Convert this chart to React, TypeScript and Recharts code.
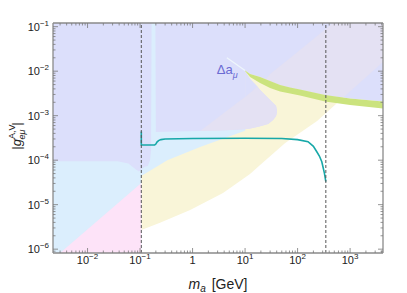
import {
  Area,
  ComposedChart,
  Line,
  ReferenceDot,
  ReferenceLine,
  XAxis,
  YAxis,
} from "recharts";

const FONT = "'Liberation Sans', Arial, Helvetica, sans-serif";

const X_MIN = 0.0022;
const X_MAX = 4230;
const Y_MIN = 8.2e-7;
const Y_MAX = 0.121;
const M_MU = 0.1057;
const M_2TOP = 345;

// tick labels
const xMajor = [0.01, 0.1, 1, 10, 100, 1000];
const xMajorLabels = [["10", "−2"], ["10", "−1"], ["1", ""], ["10", "1"], ["10", "2"], ["10", "3"]];
const yMajor = [1e-6, 1e-5, 1e-4, 1e-3, 1e-2, 1e-1];
const yMajorLabels = [["10", "−6"], ["10", "−5"], ["10", "−4"], ["10", "−3"], ["10", "−2"], ["10", "−1"]];

// yellow band (lower edge, open to the top)
const yellowX = [M_MU, 0.24, 0.9, 3.8, 12.4, 19.3, 58, 235, 565, 4230];
const yellowLow = [2.7e-6, 3.9e-6, 7.6e-6, 1.83e-5, 4.9e-5, 7.8e-5, 2.44e-4, 7.6e-4, 1.93e-3, 1.61e-2];

// light blue region
const lightBlueX = [X_MIN, M_MU, M_MU, 0.33, 1.39, 10];
const lightBlueLow = [Y_MIN, Y_MIN, 4.4e-5, 1.0e-4, 1.98e-4, 4.6e-4];

// pink region
const pinkX = [0.003, M_MU];
const pinkTop = [Y_MIN, 3.08e-5];

// blue region, left part (lower edge)
const blueX = [X_MIN, 0.037, 0.06, 0.08, 0.095, 0.12, 0.14, 0.155, 0.162, 0.166, 0.196, 0.2, 1.39, 7, 10];
const blueLow = [9.5e-5, 9.5e-5, 8.4e-5, 6.4e-5, 5.6e-5, 7.0e-5, 7.4e-5, 1.0e-4, 1.7e-4, Y_MAX, Y_MAX, 4.3e-4, 4.5e-4, 4.8e-4, 4.94e-4];

// Δa_μ band
const greenX = [10, 12.45, 19.3, 29.9, 46.4, 72, 111, 334, 1000, 4230];
const greenUp = [0.0104, 8.65e-3, 7.41e-3, 6.03e-3, 4.9e-3, 4.31e-3, 3.88e-3, 2.92e-3, 2.44e-3, 2.09e-3];
const greenLow = [0.0101, 7.41e-3, 5.43e-3, 4.19e-3, 3.5e-3, 3.16e-3, 2.84e-3, 2.09e-3, 1.74e-3, 1.45e-3];

// blue tongue below the Δa_μ tip
const tongueX = [10, 12.6, 16.9, 19.3, 27.4, 34.1, 38.9, 40.7];
const tongueLow = [4.94e-4, 5.15e-4, 5.57e-4, 5.8e-4, 6.5e-4, 8.0e-4, 9.8e-4, 1.24e-3];
const tongueHigh = [0.0101, 6.68e-3, 4.65e-3, 3.78e-3, 2.5e-3, 1.93e-3, 1.65e-3, 1.24e-3];

// overlap of blue and yellow
const blendAX = [1.39, 3, 7, 10, 12.6, 16.9, 19.3, 27.4, 34.1, 38.9, 40.7];
const blendALow = [4.5e-4, 4.6e-4, 4.8e-4, 4.94e-4, 5.15e-4, 5.57e-4, 5.8e-4, 6.5e-4, 8.0e-4, 9.8e-4, 1.24e-3];
const blendAHigh = [4.5e-4, 9.0e-4, 1.93e-3, 2.63e-3, 3.29e-3, 4.5e-3, 3.78e-3, 2.5e-3, 1.93e-3, 1.65e-3, 1.24e-3];
const blendBX = [24.7, 29.9, 46.4, 72, 111, 334, 465, 759, 4230];
const blendBLow = [6.6e-3, 6.03e-3, 4.9e-3, 4.31e-3, 3.88e-3, 2.92e-3, 2.8e-3, 2.63e-3, 1.61e-2];
const blendBHigh = [6.6e-3, 8.65e-3, 0.0131, 0.0198, 0.0299, 0.086, Y_MAX, Y_MAX, Y_MAX];

// teal curve
const tealX = [M_MU, M_MU, 0.19, 0.2, 0.21, 0.225, 0.25, 0.3, 1, 10, 50, 100, 158, 200, 232, 260, 289, 324, M_2TOP];
const tealY = [4.4e-4, 2.2e-4, 2.2e-4, 2.3e-4, 2.55e-4, 2.75e-4, 2.9e-4, 3.0e-4, 3.08e-4, 3.1e-4, 3.07e-4, 2.9e-4, 2.6e-4, 2.05e-4, 1.55e-4, 1.24e-4, 9.2e-5, 5.1e-5, 3.3e-5];

// faint continuation of the Δa_μ band
const faintX = [4.5, 10];
const faintY = [0.02, 0.0104];

const band = (xs: number[], lo: number[], hi: number[] | number) =>
  xs.map((x, i) => ({ x, v: [lo[i], Array.isArray(hi) ? hi[i] : hi] }));
const pts = (xs: number[], ys: number[]) => xs.map((x, i) => ({ x, y: ys[i] }));

const logTicks = (lo: number, hi: number) => {
  const out: number[] = [];
  for (let e = Math.floor(Math.log10(lo)); e <= Math.ceil(Math.log10(hi)); e++) {
    for (let k = 1; k < 10; k++) {
      const v = k * Math.pow(10, e);
      if (v >= lo && v <= hi) out.push(v);
    }
  }
  return out;
};
const xTicks = logTicks(X_MIN, X_MAX);
const yTicks = logTicks(Y_MIN, Y_MAX);

const majorIndex = (v: number, majors: number[]) =>
  majors.findIndex((m) => Math.abs(Math.log10(m) - Math.log10(v)) < 1e-6);

const TICK = "#7a7a7a";

const XTick = (props: any) => {
  const { x, y, payload, top } = props;
  const i = majorIndex(payload.value, xMajor);
  const len = i >= 0 ? 5 : 2.5;
  const dir = top ? 1 : -1;
  const lab = i >= 0 ? xMajorLabels[i] : null;
  return (
    <g>
      <line x1={x} x2={x} y1={y} y2={y + dir * len} stroke={TICK} strokeWidth={0.8} />
      {!top && lab && (
        <text x={x} y={y + 11} textAnchor="middle" fontSize={11} fill="#222" fontFamily={FONT}>
          <tspan>{lab[0]}</tspan>
          {lab[1] && (
            <tspan dy={-5} fontSize={8}>
              {lab[1]}
            </tspan>
          )}
        </text>
      )}
    </g>
  );
};

const YTick = (props: any) => {
  const { x, y, payload, right } = props;
  const i = majorIndex(payload.value, yMajor);
  const len = i >= 0 ? 5 : 2.5;
  const dir = right ? -1 : 1;
  const lab = i >= 0 ? yMajorLabels[i] : null;
  return (
    <g>
      <line x1={x} x2={x + dir * len} y1={y} y2={y} stroke={TICK} strokeWidth={0.8} />
      {!right && lab && (
        <text x={x - 4} y={y + 4} textAnchor="end" fontSize={11} fill="#222" fontFamily={FONT}>
          <tspan>{lab[0]}</tspan>
          <tspan dy={-5} fontSize={8}>
            {lab[1]}
          </tspan>
        </text>
      )}
    </g>
  );
};

const LabelDelta = (props: any) => (
  <text x={props.cx} y={props.cy} fontSize={13} fill="#6b6bd3" fontFamily={FONT}>
    <tspan>Δa</tspan>
    <tspan dy={4} fontSize={9} fontStyle="italic">
      μ
    </tspan>
  </text>
);

const frame = { stroke: "#8a8a8a", strokeWidth: 1.3 };

const areaProps = {
  dataKey: "v",
  stroke: "none",
  fillOpacity: 1,
  isAnimationActive: false,
  dot: false,
  activeDot: false,
  type: "linear" as const,
};

export default function App() {
  return (
    <ComposedChart
      width={400}
      height={285}
      margin={{ top: 0, right: 0, bottom: 0, left: 0 }}
    >
      <Area {...areaProps} data={band(yellowX, yellowLow, Y_MAX)} fill="#f9f5d8" />
      <Area {...areaProps} data={band(lightBlueX, lightBlueLow, Y_MAX)} fill="#dbeefd" />
      <Area {...areaProps} data={band(pinkX, new Array(pinkX.length).fill(Y_MIN), pinkTop)} fill="#fde3f8" />
      <Area
        {...areaProps}
        data={[...band(blueX, blueLow, Y_MAX), ...band(greenX, greenUp, Y_MAX)]}
        fill="#dcdffb"
      />
      <Area {...areaProps} data={band(tongueX, tongueLow, tongueHigh)} fill="#dcdffb" />
      <Area {...areaProps} data={band(blendAX, blendALow, blendAHigh)} fill="#e4e1f3" />
      <Area {...areaProps} data={band(blendBX, blendBLow, blendBHigh)} fill="#e4e1f3" />
      <Area {...areaProps} data={band(greenX, greenLow, greenUp)} fill="#cbe37e" />
      <Line
        data={pts(faintX, faintY)}
        dataKey="y"
        stroke="#eef6fb"
        strokeWidth={1.2}
        dot={false}
        activeDot={false}
        isAnimationActive={false}
      />
      <Line
        data={pts(tealX, tealY)}
        dataKey="y"
        type="linear"
        stroke="#17a8a8"
        strokeWidth={1.6}
        dot={false}
        activeDot={false}
        isAnimationActive={false}
      />
      <ReferenceLine x={M_MU} stroke="#555" strokeDasharray="3 2" strokeWidth={1} />
      <ReferenceLine x={M_2TOP} stroke="#555" strokeDasharray="3 2" strokeWidth={1} />
      <ReferenceDot x={2.9} y={8.65e-3} r={0} shape={(p: any) => <LabelDelta {...p} />} />

      <XAxis
        dataKey="x"
        type="number"
        scale="log"
        domain={[X_MIN, X_MAX]}
        allowDataOverflow
        ticks={xTicks}
        interval={0}
        height={40}
        tickSize={0}
        tickMargin={0}
        tickLine={false}
        axisLine={frame}
        tick={(p: any) => <XTick {...p} />}
      />
      <XAxis
        xAxisId="top"
        orientation="top"
        dataKey="x"
        type="number"
        scale="log"
        domain={[X_MIN, X_MAX]}
        allowDataOverflow
        ticks={xTicks}
        interval={0}
        height={15}
        tickSize={0}
        tickMargin={0}
        tickLine={false}
        axisLine={frame}
        tick={(p: any) => <XTick {...p} top />}
      />
      <YAxis
        type="number"
        scale="log"
        domain={[Y_MIN, Y_MAX]}
        allowDataOverflow
        ticks={yTicks}
        interval={0}
        width={45}
        tickSize={0}
        tickMargin={0}
        tickLine={false}
        axisLine={frame}
        tick={(p: any) => <YTick {...p} />}
      />
      <YAxis
        yAxisId="r"
        orientation="right"
        type="number"
        scale="log"
        domain={[Y_MIN, Y_MAX]}
        allowDataOverflow
        ticks={yTicks}
        interval={0}
        width={25}
        tickSize={0}
        tickMargin={0}
        tickLine={false}
        axisLine={frame}
        tick={(p: any) => <YTick {...p} right />}
      />

      <text x={210} y={281} textAnchor="middle" fontSize={14} fill="#222" fontFamily={FONT}>
        <tspan fontStyle="italic">m</tspan>
        <tspan dy={3} fontSize={10} fontStyle="italic">a</tspan>
        <tspan dx={6} dy={-3}>[GeV]</tspan>
      </text>
      <text
        transform="translate(13,128) rotate(-90)"
        textAnchor="middle"
        fontSize={13}
        fill="#222"
        fontFamily={FONT}
      >
        <tspan>|</tspan>
        <tspan fontStyle="italic">g</tspan>
        <tspan dy={-6} fontSize={9}>A,V</tspan>
        <tspan dx={-15} dy={10} fontSize={9} fontStyle="italic">eμ</tspan>
        <tspan dx={4} dy={-4}>|</tspan>
      </text>
    </ComposedChart>
  );
}
